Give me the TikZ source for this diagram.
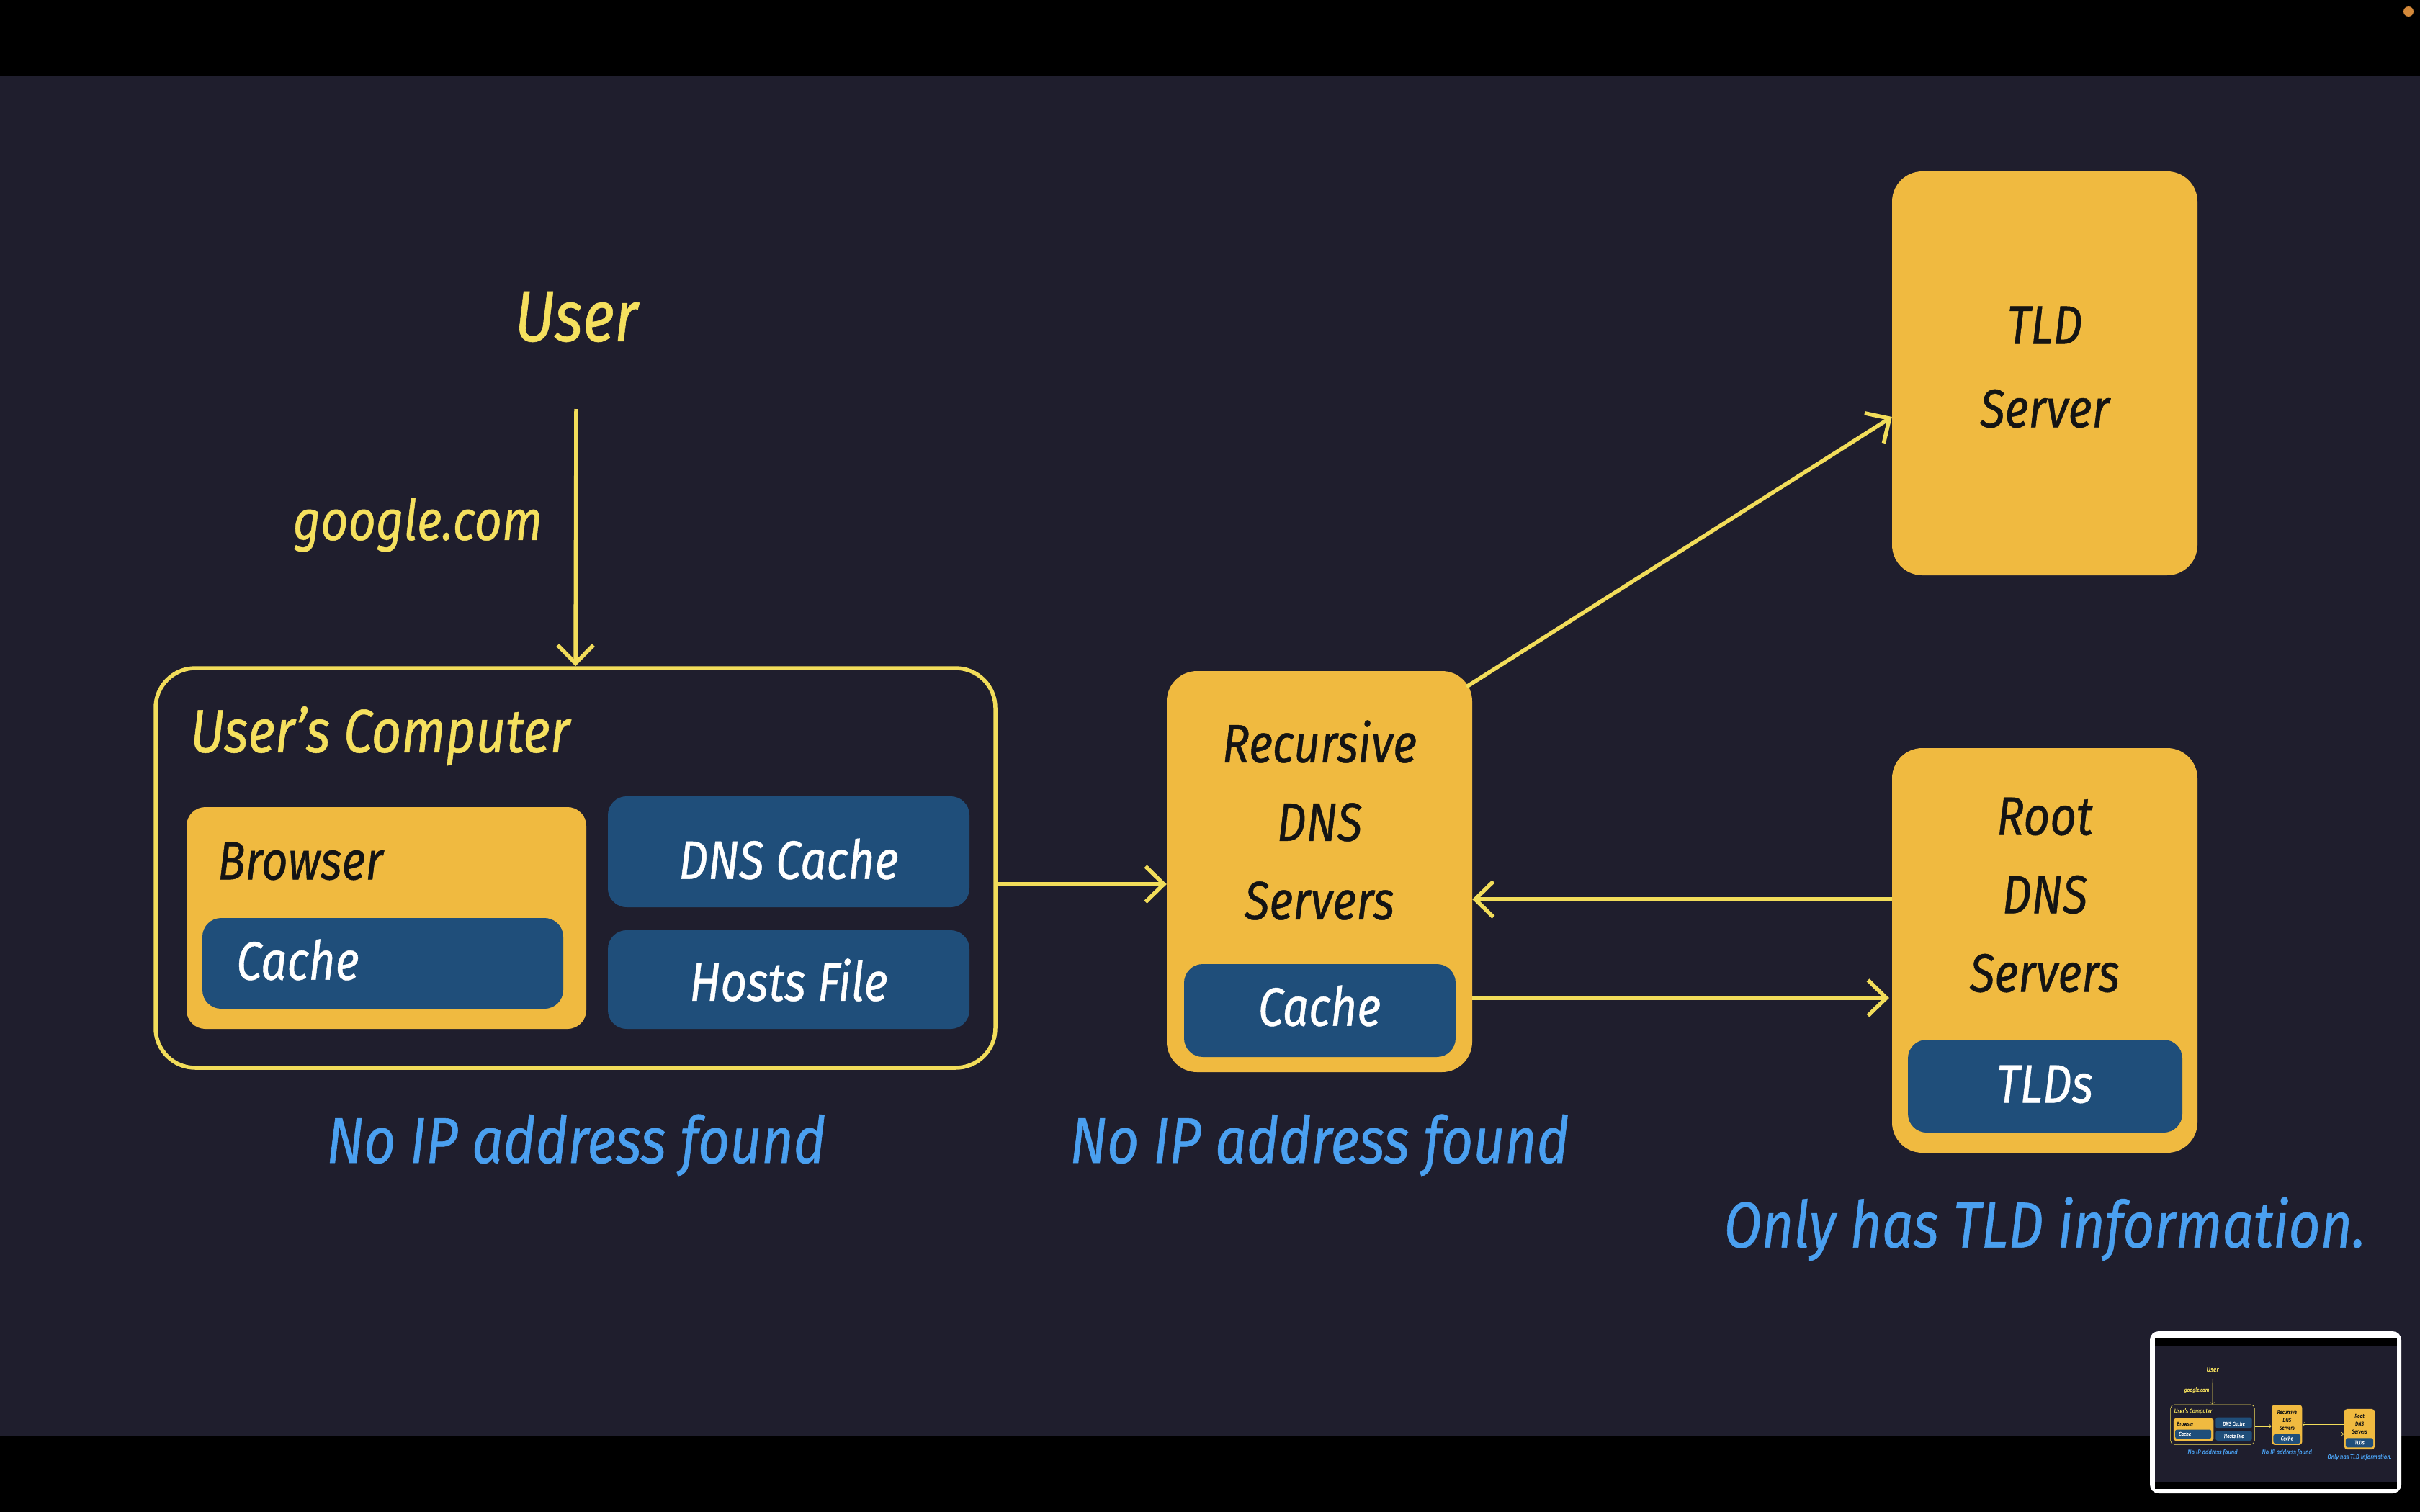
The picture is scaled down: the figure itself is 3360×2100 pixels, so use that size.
\documentclass[tikz,border=0pt]{standalone}
\usepackage{fontspec}
\newfontfamily\hand{Fira Sans}[FakeStretch=0.85, FakeBold=0.6]
\usetikzlibrary{arrows.meta,calc}
\definecolor{bgc}{HTML}{1F1E2D}
\definecolor{linec}{HTML}{F2DD5A}
\definecolor{ytxt}{HTML}{F5E05E}
\definecolor{orc}{HTML}{F0BA40}
\definecolor{blc}{HTML}{1F4E7A}
\definecolor{btxt}{HTML}{4AA0F0}
\definecolor{dotc}{HTML}{D4893A}
\newcommand\dnslw{5.5pt}
\newcommand\dnsrcA{42pt}
\newcommand\dnsrcB{26pt}
\newcommand\dnsrcC{55pt}
\newcommand\dnsfBox{75}\newcommand\dnsfBoxL{109}
\newcommand\dnsfUser{100}\newcommand\dnsfGoo{78}
\newcommand\dnsfComp{85}\newcommand\dnsfNote{90}
\tikzset{
 obox/.style={fill=orc, rounded corners=\dnsrcA, inner sep=0pt, draw=none},
 bbox/.style={fill=blc, rounded corners=\dnsrcB, inner sep=0pt},
 brbox/.style={fill=orc, rounded corners=\dnsrcB, inner sep=0pt},
 compbox/.style={draw=linec, line width=\dnslw, rounded corners=\dnsrcC, inner sep=0pt},
 boxfont/.style={font=\hand\itshape\fontsize{\dnsfBox}{\dnsfBoxL}\selectfont},
 ktext/.style={boxfont, text=black!92, inner sep=0pt, align=center},
 wtext/.style={boxfont, text=white, inner sep=0pt},
 ytext/.style={text=ytxt, inner sep=0pt},
 note/.style={text=btxt, inner sep=0pt, font=\hand\itshape\fontsize{\dnsfNote}{\dnsfNote}\selectfont},
 arr/.style={draw=linec, line width=\dnslw, -{Straight Barb[length=0pt 4.6, width=0pt 9]}},
}
% #1 name prefix, #2 vertical offset of the right column, #3 scale factor
\newcommand\dnsscene[3]{%
 \pgfmathsetlengthmacro\dnslw{5.5pt*#3}%
 \pgfmathsetlengthmacro\dnsrcA{42pt*#3}%
 \pgfmathsetlengthmacro\dnsrcB{26pt*#3}%
 \pgfmathsetlengthmacro\dnsrcC{55pt*#3}%
 \pgfmathsetmacro\dnsfBox{75*#3}%
 \pgfmathsetmacro\dnsfBoxL{109*#3}%
 \pgfmathsetmacro\dnsfUser{100*#3}%
 \pgfmathsetmacro\dnsfGoo{78*#3}%
 \pgfmathsetmacro\dnsfComp{85*#3}%
 \pgfmathsetmacro\dnsfNote{90*#3}%
 \fill[black] (0,0) rectangle (3360,2100);
 \fill[bgc] (0,105) rectangle (3360,1995);
 % user
 \node[ytext, font=\hand\itshape\fontsize{\dnsfUser}{\dnsfUser}\selectfont] (#1user) at (800,440) {User};
 \node[ytext, font=\hand\itshape\fontsize{\dnsfGoo}{\dnsfGoo}\selectfont] (#1google) at (580,729) {google.com};
 % user's computer
 \node[compbox, minimum width=#3*1166pt, minimum height=#3*555pt] (#1comp) at (799,1205.5) {};
 \node[ytext, anchor=west, font=\hand\itshape\fontsize{\dnsfComp}{\dnsfComp}\selectfont] (#1comptxt) at (264,1022) {User’s Computer};
 \node[brbox, minimum width=#3*555pt, minimum height=#3*308pt] (#1browser) at (536.5,1275) {};
 \node[ktext, anchor=west] (#1browsertxt) at (302,1196) {Browser};
 \node[bbox, minimum width=#3*501pt, minimum height=#3*126pt] (#1bcache) at (531.5,1338) {};
 \node[wtext, anchor=west] (#1bcachetxt) at (328,1333) {Cache};
 \node[bbox, minimum width=#3*502pt, minimum height=#3*154pt] (#1dnscache) at (1095,1183) {};
 \node[wtext] (#1dnscachetxt) at (1095,1193) {DNS Cache};
 \node[bbox, minimum width=#3*502pt, minimum height=#3*137pt] (#1hosts) at (1095,1360.5) {};
 \node[wtext] (#1hoststxt) at (1095,1361) {Hosts File};
 \node[note] (#1noip1) at (800,1591) {No IP address found};
 % recursive
 \node[obox, minimum width=#3*424pt, minimum height=#3*557pt] (#1rec) at (1832,1210.5) {};
 \node[ktext] (#1rectxt) at (1832,1139) {Recursive\\DNS\\Servers};
 \node[bbox, minimum width=#3*377pt, minimum height=#3*129pt] (#1rcache) at (1832.5,1403.5) {};
 \node[wtext] (#1rcachetxt) at (1832,1397) {Cache};
 \node[note] (#1noip2) at (1832,1591) {No IP address found};
 % root
 \node[obox, minimum width=#3*424pt, minimum height=#3*562pt] (#1root) at (2839,{1320+#2}) {};
 \node[ktext] (#1roottxt) at (2839,{1243+#2}) {Root\\DNS\\Servers};
 \node[bbox, minimum width=#3*381pt, minimum height=#3*129pt] (#1tlds) at (2839.5,{1508.5+#2}) {};
 \node[wtext] (#1tldstxt) at (2839,{1506+#2}) {TLDs};
 \node[note] (#1only) at (2839,{1707+#2}) {Only has TLD information.};
 % connectors
 \coordinate (#1ustart) at (800,568);
 \draw[arr] (#1ustart) -- (#1comp.north);
 \coordinate (#1ya) at (0,1228);
 \draw[arr] (#1comp.east |- #1ya) -- (#1rec.west |- #1ya);
 \coordinate (#1yb) at (0,{1249+#2});
 \draw[arr] (#1root.west |- #1yb) -- (#1rec.east |- #1yb);
 \coordinate (#1yc) at (0,{1386+#2});
 \draw[arr] (#1rec.east |- #1yc) -- ($(#1root.west |- #1yc)+(-4,0)$);
}
\begin{document}
\begin{tikzpicture}[x=1pt,y=-1pt]
\useasboundingbox (0,0) rectangle (3360,2100);
\dnsscene{}{0}{1}
% TLD server
\node[obox, minimum width=424pt, minimum height=561pt] (tld) at (2839,518.5) {};
\node[ktext, font=\hand\itshape\fontsize{75}{116}\selectfont] (tldtxt) at (2839,510) {TLD\\Server};
\draw[arr] ($(rec.north east)+(-8,22)$) -- ($(tld.west)+(0,60.5)$);
% recording dot
\fill[dotc] (3344,16) circle (7pt);
% minimap
\fill[white, rounded corners=12pt] (2985,1849) rectangle (3334,2074);
\begin{scope}[shift={(2992pt,-1858pt)}, x=0.1pt, y=-0.1pt]
\dnsscene{m}{-50}{0.1}
\end{scope}
\end{tikzpicture}
\end{document}
